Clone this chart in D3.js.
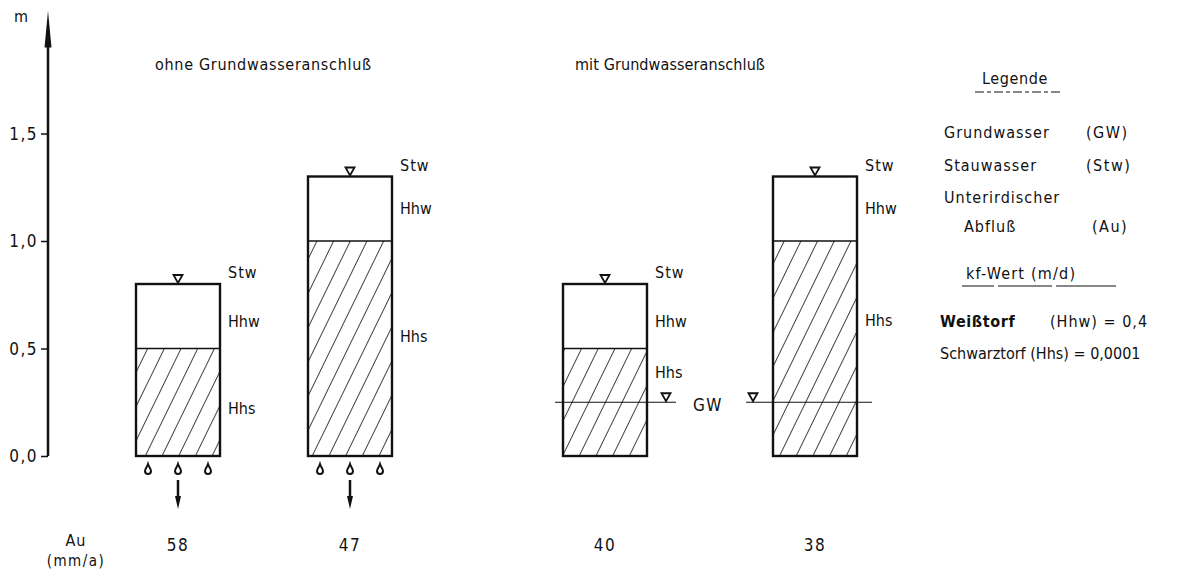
<!DOCTYPE html>
<html>
<head>
<meta charset="utf-8">
<script src="https://cdn.jsdelivr.net/npm/d3@7"></script>
<style>
  body { margin: 0; background: #fff; }
  svg text { font-family: "DejaVu Sans Condensed", "DejaVu Sans", sans-serif; fill: #111; }
</style>
</head>
<body>
<svg id="chart" width="1185" height="571"></svg>
<script>
// DATA

const columns = ['ohne1', 'ohne2', 'mit1', 'mit2']
const totalHeight = [0.8, 1.3, 0.8, 1.3]     // Oberkante Stauwasser (m)
const schwarztorf = [0.5, 1.0, 0.5, 1.0]     // Oberkante Hhs (m)
const groundwater = [null, null, 0.25, 0.25] // GW-Spiegel (m)
const auValues = ['58', '47', '40', '38']    // unterirdischer Abfluss (mm/a)
const yTicks = [0, 0.5, 1.0, 1.5]
const groupTitles = ['ohne Grundwasseranschluß', 'mit Grundwasseranschluß']

// SCALES

const svg = d3.select('#chart')
const y = d3.scaleLinear().domain([0, 2]).range([456, 26])
const x = d3.scaleOrdinal().domain(columns).range([178, 350, 605, 815])
const barW = 84
const ink = '#111'
// where the "Hhs" label sits in each column (m) - placed by hand like in the drawing
const hhsLabelAt = [0.195, 0.53, 0.363, 0.605]

// hatch pattern for Schwarztorf
svg.append('defs').append('pattern')
    .attr('id', 'hatch')
    .attr('patternUnits', 'userSpaceOnUse')
    .attr('width', 15).attr('height', 15)
    .attr('patternTransform', 'rotate(26)')
    .append('line')
    .attr('x1', 0).attr('y1', -1).attr('x2', 0).attr('y2', 16)
    .attr('stroke', ink).attr('stroke-width', 1.6)

// AXIS

const fmt = d => d3.format('.1f')(d).replace('.', ',')
const axis = d3.axisLeft(y).tickValues(yTicks).tickFormat(fmt).tickSize(7).tickSizeOuter(0)
const axisG = svg.append('g').attr('transform', 'translate(48,0)').call(axis)
axisG.select('.domain').attr('stroke', ink).attr('stroke-width', 2.5)
    .attr('d', `M0,${y(0)}V${y(1.98)}`)
axisG.selectAll('.tick line').attr('stroke', ink).attr('stroke-width', 1.5)
axisG.selectAll('.tick text').attr('font-size', 17).attr('x', -10).attr('dy', '0.35em')
    .attr('letter-spacing', 1.5)
    .style('font-family', '"DejaVu Sans Condensed", sans-serif').attr('fill', ink)
// arrow head
svg.append('path')
    .attr('d', `M48,${y(2.07)} L44.5,${y(1.9)} L51.5,${y(1.9)} Z`)
    .attr('fill', ink)
svg.append('text').attr('x', 14).attr('y', 22).attr('font-size', 16).text('m')

// group titles
svg.append('text').attr('x', 155).attr('y', 70).attr('font-size', 16).attr('letter-spacing', 0.7).text(groupTitles[0])
svg.append('text').attr('x', 575).attr('y', 70).attr('font-size', 16).attr('letter-spacing', 0.1).text(groupTitles[1])

// BARS

const bars = svg.selectAll('.col')
    .data(columns.map((c, i) => ({ c, i, top: totalHeight[i], hs: schwarztorf[i], gw: groundwater[i] })))
    .join('g').attr('class', 'col')

bars.append('rect')
    .attr('x', d => x(d.c) - barW / 2).attr('width', barW)
    .attr('y', d => y(d.hs)).attr('height', d => y(0) - y(d.hs))
    .attr('fill', 'url(#hatch)')

bars.append('rect')
    .attr('x', d => x(d.c) - barW / 2).attr('width', barW)
    .attr('y', d => y(d.top)).attr('height', d => y(0) - y(d.top))
    .attr('fill', 'none').attr('stroke', ink).attr('stroke-width', 2.4)

bars.append('line')
    .attr('x1', d => x(d.c) - barW / 2).attr('x2', d => x(d.c) + barW / 2)
    .attr('y1', d => y(d.hs)).attr('y2', d => y(d.hs))
    .attr('stroke', ink).attr('stroke-width', 1.4)

// water level triangles
const tri = (cx, cy) => `M${cx - 4.5},${cy - 9} L${cx + 4.5},${cy - 9} L${cx},${cy - 1} Z`
bars.append('path')
    .attr('d', d => tri(x(d.c), y(d.top)))
    .attr('fill', 'none').attr('stroke', ink).attr('stroke-width', 1.8)

// layer labels
const labelX = d => x(d.c) + barW / 2 + 8
bars.append('text').attr('x', labelX).attr('y', d => y(d.top) - 6).attr('font-size', 16).attr('letter-spacing', 1).text('Stw')
bars.append('text').attr('x', labelX).attr('y', d => y(d.top) + (d.top > 1 ? 37 : 43)).attr('font-size', 16).text('Hhw')
bars.append('text').attr('x', labelX)
    .attr('y', d => y(hhsLabelAt[d.i]))
    .attr('font-size', 16).text('Hhs')

// groundwater lines
const gwBars = bars.filter(d => d.gw !== null)
gwBars.append('line')
    .attr('x1', d => d.i === 2 ? x(d.c) - barW / 2 - 8 : x(d.c) - barW / 2 - 27)
    .attr('x2', d => d.i === 2 ? x(d.c) + barW / 2 + 29 : x(d.c) + barW / 2 + 15)
    .attr('y1', d => y(d.gw)).attr('y2', d => y(d.gw))
    .attr('stroke', ink).attr('stroke-width', 1.2)
gwBars.append('path')
    .attr('d', d => tri(d.i === 2 ? x(d.c) + barW / 2 + 19 : x(d.c) - barW / 2 - 20, y(d.gw)))
    .attr('fill', 'none').attr('stroke', ink).attr('stroke-width', 1.8)
gwBars.filter(d => d.i === 2).append('text')
    .attr('x', d => x(d.c) + barW / 2 + 46).attr('y', d => y(d.gw) + 9)
    .attr('font-size', 17).attr('letter-spacing', 1.5).text('GW')

// drops and outflow arrows for columns without groundwater
const dry = bars.filter(d => d.gw === null)
const drop = (cx, cy) => `M${cx},${cy - 5} C${cx + 1},${cy - 2} ${cx + 3},${cy} ${cx + 3},${cy + 2} A3,3 0 0 1 ${cx - 3},${cy + 2} C${cx - 3},${cy} ${cx - 1},${cy - 2} ${cx},${cy - 5} Z`
dry.selectAll('.drop')
    .data(d => [-30, 0, 30].map(o => x(d.c) + o))
    .join('path').attr('class', 'drop')
    .attr('d', cx => drop(cx, 469))
    .attr('fill', 'none').attr('stroke', ink).attr('stroke-width', 2)
dry.append('line')
    .attr('x1', d => x(d.c)).attr('x2', d => x(d.c))
    .attr('y1', 480).attr('y2', 500)
    .attr('stroke', ink).attr('stroke-width', 2.5)
dry.append('path')
    .attr('d', d => `M${x(d.c) - 3},496 L${x(d.c) + 3},496 L${x(d.c)},509 Z`)
    .attr('fill', ink)

// Au values
svg.append('g').selectAll('text')
    .data(columns)
    .join('text')
    .attr('x', c => x(c)).attr('y', 551)
    .attr('text-anchor', 'middle').attr('font-size', 17).attr('letter-spacing', 1.5)
    .text((c, i) => auValues[i])
svg.append('text').attr('x', 76).attr('y', 546).attr('text-anchor', 'middle').attr('font-size', 16).attr('letter-spacing', 1).text('Au')
svg.append('text').attr('x', 76).attr('y', 566).attr('text-anchor', 'middle').attr('font-size', 15).attr('letter-spacing', 1.5).text('(mm/a)')

// LEGEND

const leg = svg.append('g').attr('font-size', 16)
leg.append('text').attr('x', 982).attr('y', 84).attr('letter-spacing', 0.6).text('Legende')
leg.append('line').attr('x1', 975).attr('x2', 1062).attr('y1', 92).attr('y2', 92)
    .attr('stroke', ink).attr('stroke-width', 1).attr('stroke-dasharray', '9,3,4,3')
const legRows = [
    ['Grundwasser', '(GW)', 944, 138],
    ['Stauwasser', '(Stw)', 944, 171],
    ['Unterirdischer', '', 944, 203],
    ['Abfluß', '(Au)', 964, 232]
]
legRows.forEach(([a, b, lx, ly]) => {
    leg.append('text').attr('x', lx).attr('y', ly).attr('letter-spacing', 1).text(a)
    if (b) leg.append('text').attr('x', b === '(Au)' ? 1092 : 1086).attr('y', ly).attr('letter-spacing', 1.5).text(b)
})
leg.append('text').attr('x', 966).attr('y', 279).attr('letter-spacing', 1.2).text('kf-Wert (m/d)')
leg.append('line').attr('x1', 962).attr('x2', 1118).attr('y1', 286).attr('y2', 286)
    .attr('stroke', ink).attr('stroke-width', 1.2).attr('stroke-dasharray', '32,4,54,4,60')
leg.append('text').attr('x', 940).attr('y', 327).attr('font-weight', 'bold').attr('letter-spacing', 0.6).text('Weißtorf')
leg.append('text').attr('x', 1050).attr('y', 327).attr('letter-spacing', 1).text('(Hhw) = 0,4')
leg.append('text').attr('x', 940).attr('y', 359).attr('letter-spacing', 0).text('Schwarztorf (Hhs) = 0,0001')
</script>
</body>
</html>
